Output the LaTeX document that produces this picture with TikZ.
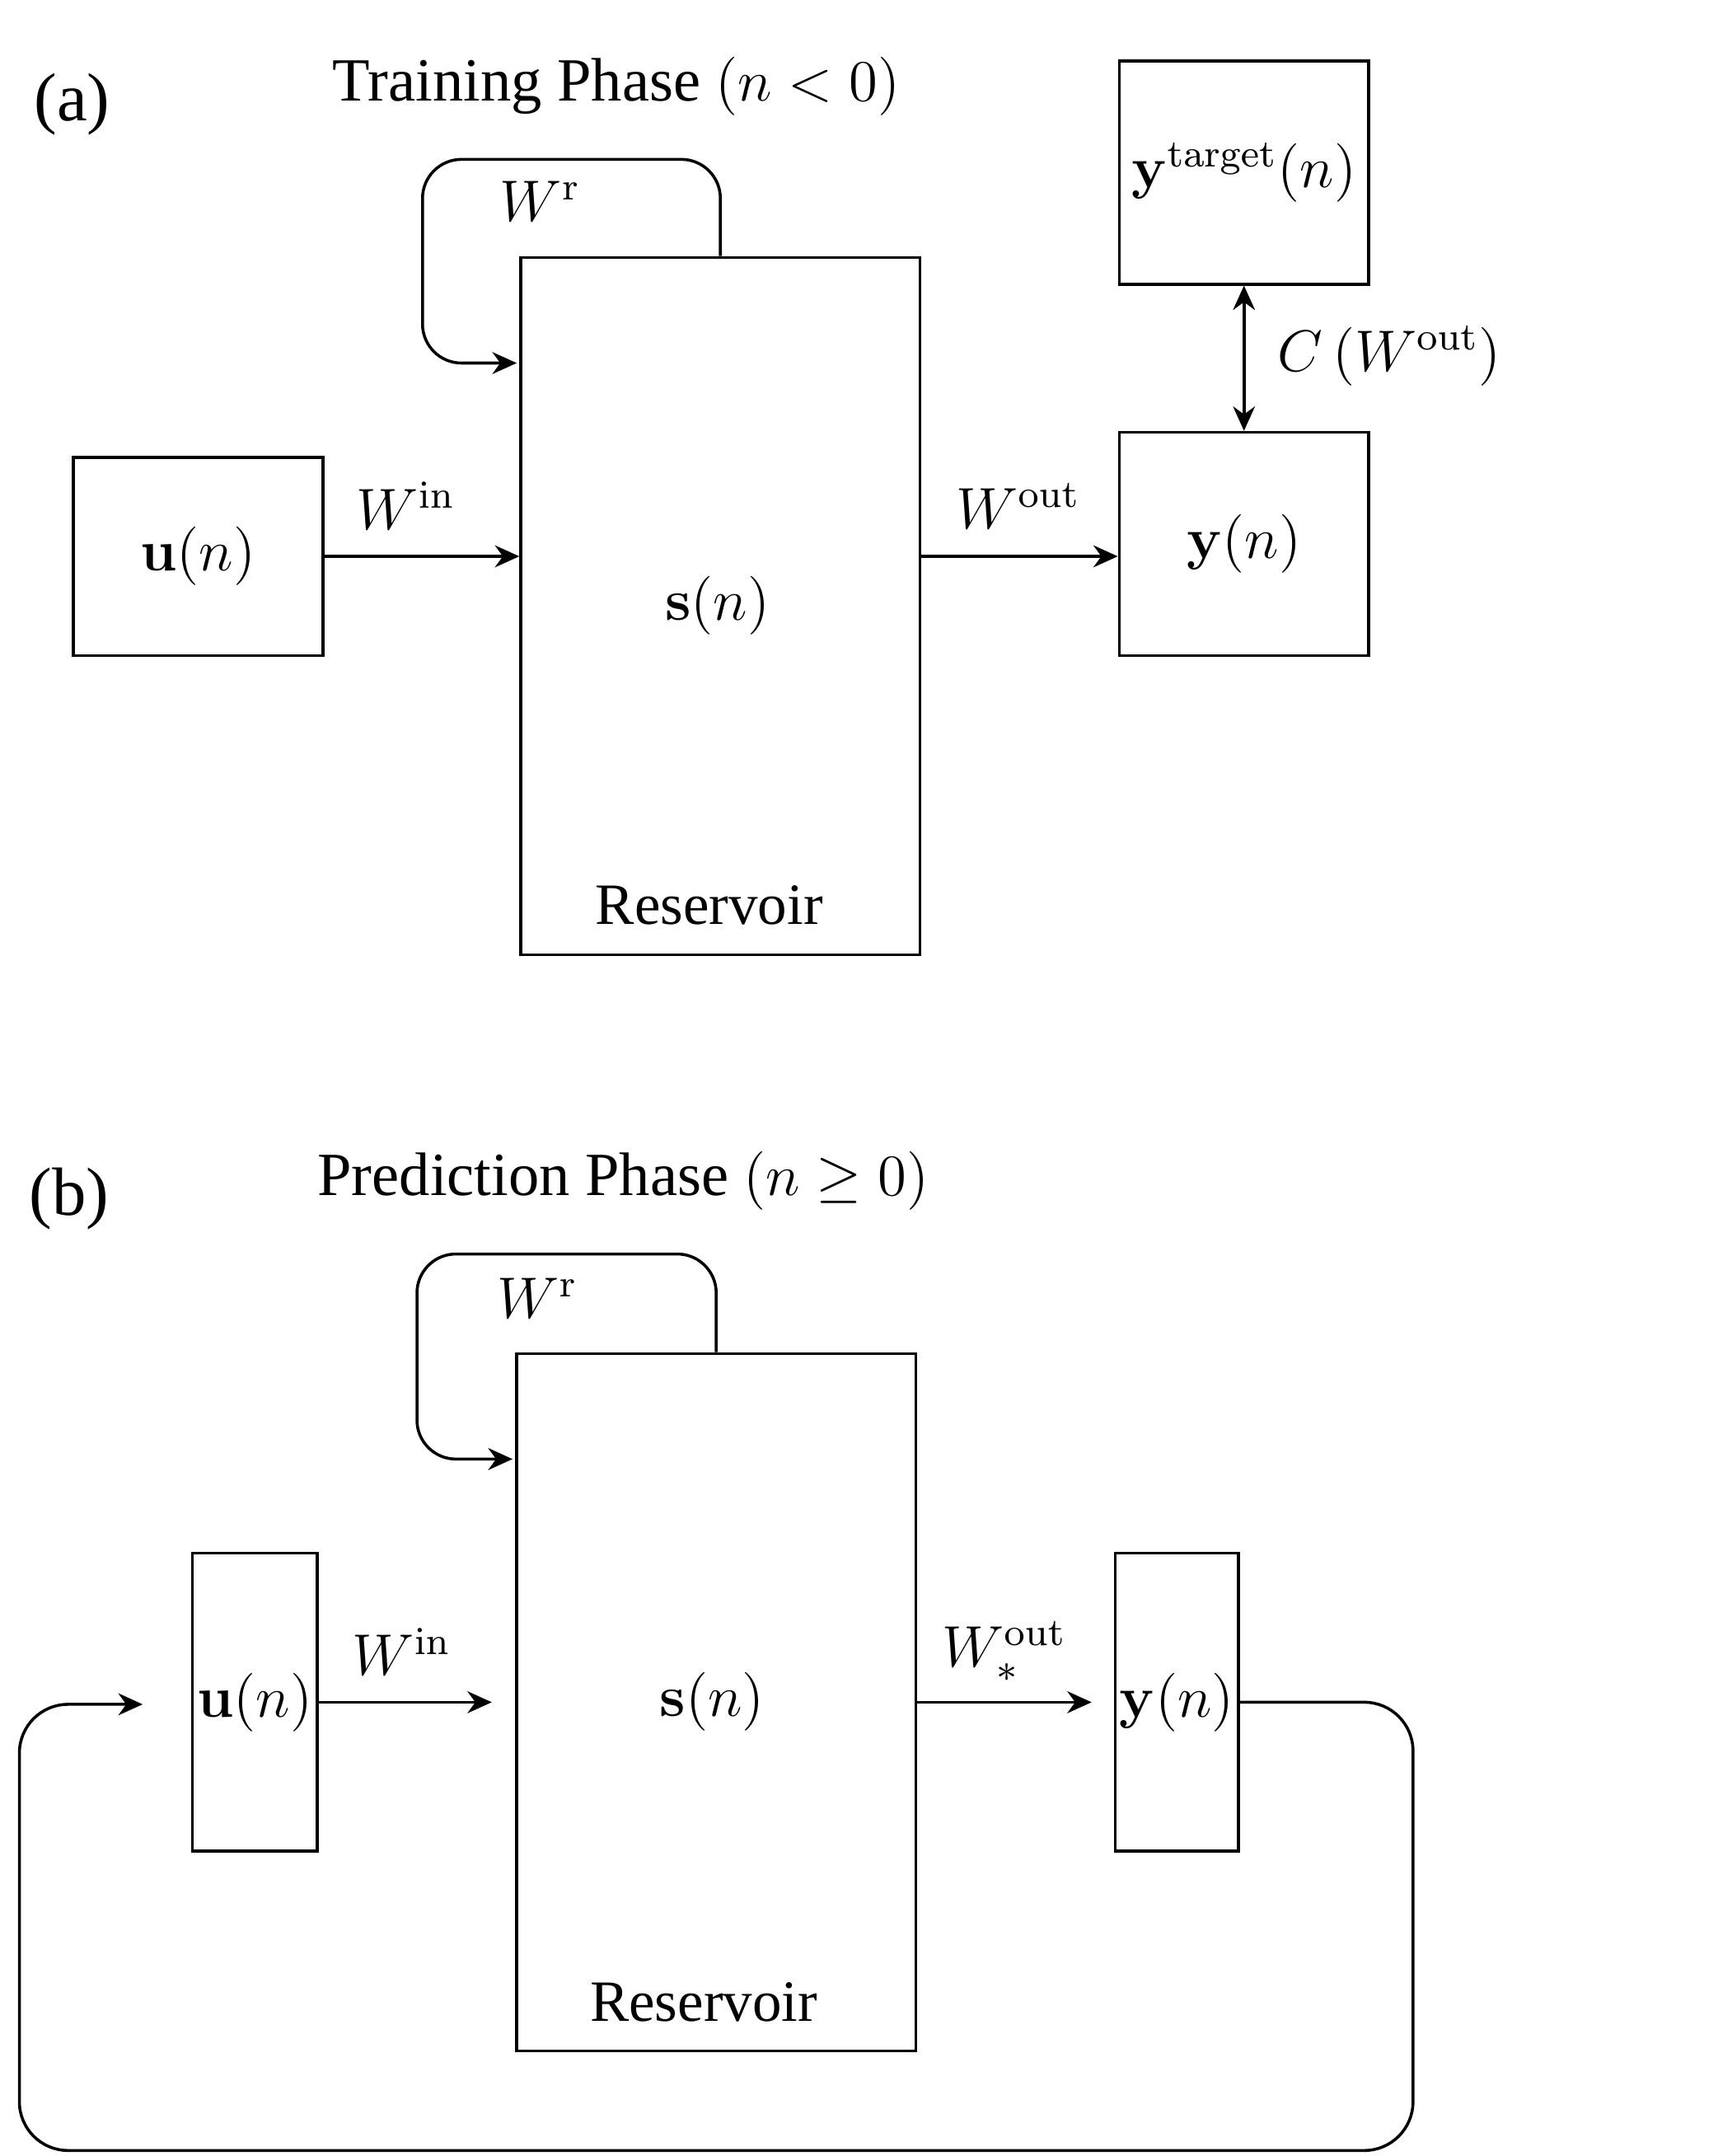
\documentclass[tikz,border=0pt]{standalone}
\usepackage[no-math]{fontspec}
\setmainfont{Liberation Serif}
\usetikzlibrary{arrows.meta}
\tikzset{
  box/.style={draw, line width=0.6pt, inner sep=0pt},
  arr/.style={-{Stealth[length=5pt,width=4.5pt]}, line width=0.6pt},
  lab/.style={font=\fontsize{12}{14}\selectfont},
}
\begin{document}
\begin{tikzpicture}[x=0.01cm, y=-0.01cm, lab]
\useasboundingbox (0,0) rectangle (1240,1556);

% (a) training
\node (tagA) at (52,75) {\fontsize{14}{16}\selectfont (a)};
\node (titleA) at (445,62) {\fontsize{12.6}{15}\selectfont Training Phase $(n<0)$};
\node[box, minimum width=2.88cm, minimum height=5.03cm] (resA) at (520,437.5) {};
\node (sA) at (518,437) {$\mathbf{s}(n)$};
\node (rlabA) at (512,653) {Reservoir};
\node[box, minimum width=1.80cm, minimum height=1.43cm] (uA) at (143,401.5) {$\mathbf{u}(n)$};
\node[box, minimum width=1.80cm, minimum height=1.61cm] (yA) at (898,392.5) {$\mathbf{y}(n)$};
\node[box, minimum width=1.80cm, minimum height=1.61cm] (tA) at (898,124.5) {$\mathbf{y}^{\mathrm{target}}(n)$};
\node (wrA) at (390,145) {$W^{\mathrm{r}}$};
\node (winA) at (293,365) {$W^{\mathrm{in}}$};
\node (woutA) at (735,365) {$W^{\mathrm{out}}$};
\node (costA) at (1003,257) {$C\left(W^{\mathrm{out}}\right)$};
\coordinate (loopA) at (373,262);

\draw[arr] (uA.east) -- (uA.east -| resA.west);
\draw[arr] (resA.east |- uA.east) -- (yA.west |- uA.east);
\draw[arr, {Stealth[length=5pt,width=4.5pt]}-{Stealth[length=5pt,width=4.5pt]}] (tA.south) -- (yA.north);
\draw[arr, rounded corners=8] (resA.north) -- (520,115) -- (305,115) -- (305,262) -- (loopA);

% (b) prediction
\node (tagB) at (50,865) {\fontsize{14}{16}\selectfont (b)};
\node (titleB) at (450,852) {\fontsize{12.6}{15}\selectfont Prediction Phase $(n\geq 0)$};
\node[box, minimum width=2.88cm, minimum height=5.03cm] (resB) at (517,1228.5) {};
\node (sB) at (514,1228) {$\mathbf{s}(n)$};
\node (rlabB) at (508,1445) {Reservoir};
\node[box, minimum width=0.90cm, minimum height=2.15cm] (uB) at (184,1228.5) {$\mathbf{u}(n)$};
\node[box, minimum width=0.89cm, minimum height=2.15cm] (yB) at (849.5,1228.5) {$\mathbf{y}(n)$};
\node (wrB) at (388,937) {$W^{\mathrm{r}}$};
\node (winB) at (290,1192) {$W^{\mathrm{in}}$};
\node (woutB) at (725,1192) {$W^{\mathrm{out}}_{*}$};
\coordinate (inB) at (355,1228.5);
\coordinate (outB) at (788,1228.5);
\coordinate (loopB) at (370,1053);
\coordinate (fbin) at (103,1230);

\draw[arr] (uB.east) -- (inB);
\draw[arr] (resB.east) -- (outB);
\draw[arr, rounded corners=8] (resB.north) -- (517,905) -- (301,905) -- (301,1053) -- (loopB);
\draw[arr, rounded corners=10] (yB.east) -- (1020,1228.5) -- (1020,1552) -- (14,1552) -- (14,1230) -- (fbin);
\end{tikzpicture}
\end{document}
